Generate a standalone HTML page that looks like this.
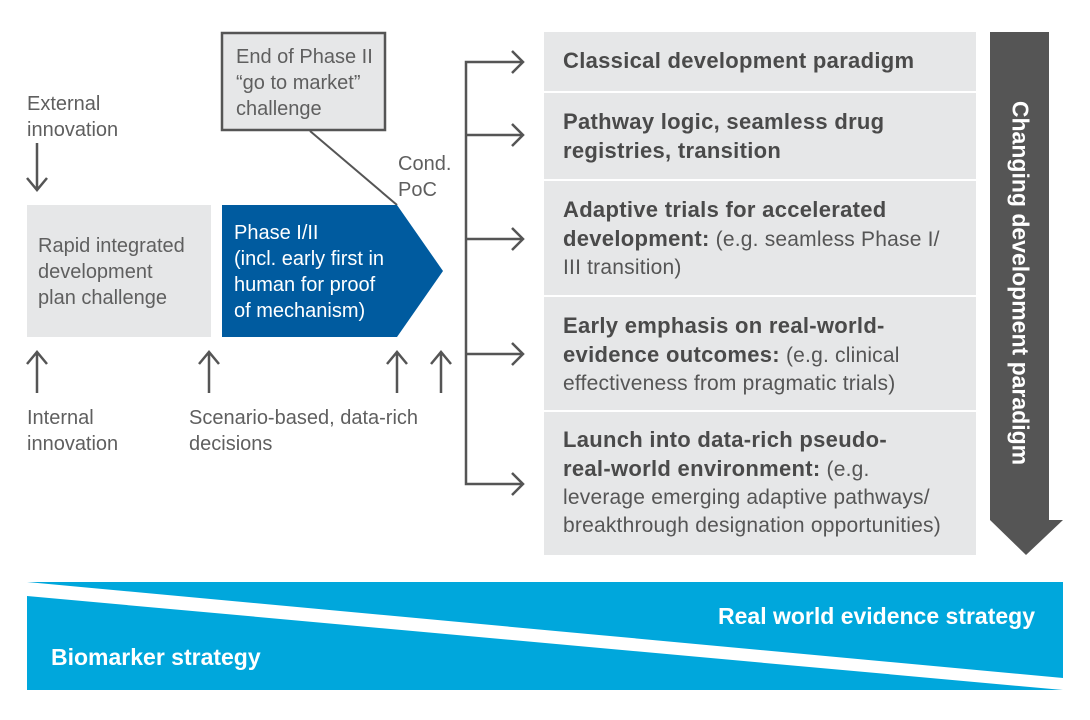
<!DOCTYPE html>
<html><head><style>
body{margin:0;width:1090px;height:720px;background:#fff;font-family:"Liberation Sans",sans-serif;position:relative;overflow:hidden;color:#5a5a5a}
.t{position:absolute;font-size:20px;line-height:26px;color:#5f5f5f}
.row{position:absolute;left:544px;width:432px;background:#e6e7e8}
.row div{position:absolute;left:19px;top:12px;font-size:21px;line-height:28px;color:#555;white-space:nowrap;letter-spacing:0.2px}
.row b{color:#4a4a4a;font-size:22px;letter-spacing:0.3px}
</style></head><body>
<svg width="1090" height="720" style="position:absolute;left:0;top:0">
<g stroke="#555" stroke-width="2.5" fill="none">
<path d="M37 143V190M27 178L37 190L47 178"/>
<path d="M37 393V352M27 364L37 352L47 364"/>
<path d="M209 393V352M199 364L209 352L219 364"/>
<path d="M397 393V352M387 364L397 352L407 364"/>
<path d="M441 393V352M431 364L441 352L451 364"/>
<path d="M523 62H466V484H523"/>
<path d="M466 135H523M466 239H523M466 354H523"/>
<path d="M512 51L523 62L512 73M512 124L523 135L512 146M512 228L523 239L512 250M512 343L523 354L512 365M512 473L523 484L512 495"/>
<path d="M310 131L397 205" stroke-width="2"/>
</g>
<rect x="27" y="205" width="184" height="132" fill="#e6e7e8"/>
<polygon points="222,205 397,205 443,271 397,337 222,337" fill="#005b9f"/>
<rect x="222" y="33" width="163" height="97" fill="#e6e7e8" stroke="#555" stroke-width="2.5"/>
<polygon points="990,32 1049,32 1049,520 990,520" fill="#555"/>
<polygon points="990,520 1063,520 1026,555" fill="#555"/>
<polygon points="27,582 1063,582 1063,678" fill="#00a7dc"/>
<polygon points="27,596 1063,690 27,690" fill="#00a7dc"/>
</svg>
<div class="t" style="left:27px;top:91px">External<br>innovation</div>
<div class="t" style="left:236px;top:44px">End of Phase II<br>“go to market”<br>challenge</div>
<div class="t" style="left:398px;top:151px">Cond.<br>PoC</div>
<div class="t" style="left:38px;top:233px">Rapid integrated<br>development<br>plan challenge</div>
<div class="t" style="left:234px;top:220px;color:#fff">Phase I/II<br>(incl. early first in<br>human for proof<br>of mechanism)</div>
<div class="t" style="left:27px;top:405px">Internal<br>innovation</div>
<div class="t" style="left:189px;top:405px">Scenario-based, data-rich<br>decisions</div>
<div class="row" style="top:32px;height:59px"><div style="top:15px"><b>Classical development paradigm</b></div></div>
<div class="row" style="top:93px;height:86px"><div style="top:15px"><b>Pathway logic, seamless drug<br>registries, transition</b></div></div>
<div class="row" style="top:181px;height:114px"><div style="top:15px"><b>Adaptive trials for accelerated<br>development:</b> (e.g. seamless Phase I/<br>III transition)</div></div>
<div class="row" style="top:297px;height:113px"><div style="top:15px"><b>Early emphasis on real-world-<br>evidence outcomes:</b> (e.g. clinical<br>effectiveness from pragmatic trials)</div></div>
<div class="row" style="top:412px;height:143px"><div style="top:14px"><b>Launch into data-rich pseudo-<br>real-world environment:</b> (e.g.<br>leverage emerging adaptive pathways/<br>breakthrough designation opportunities)</div></div>
<div style="position:absolute;left:1020px;top:283px;width:0;height:0"><div style="position:absolute;transform:translate(-50%,-50%) rotate(90deg);white-space:nowrap;font-weight:bold;font-size:23px;color:#fff">Changing development paradigm</div></div>
<div style="position:absolute;left:718px;top:603px;font-size:23px;font-weight:bold;color:#fff">Real world evidence strategy</div>
<div style="position:absolute;left:51px;top:644px;font-size:23px;font-weight:bold;color:#fff">Biomarker strategy</div>
</body></html>
